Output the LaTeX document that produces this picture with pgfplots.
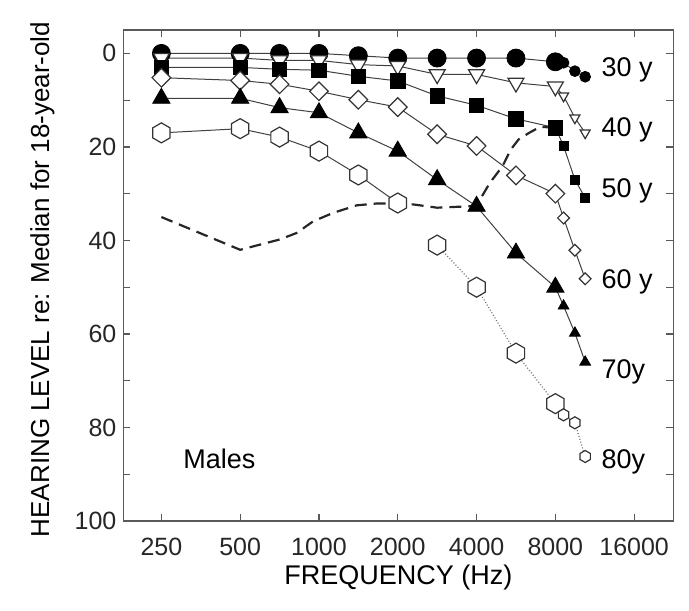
\documentclass[border=0pt]{standalone}
\usepackage{fontspec}
\setmainfont{Liberation Sans}
\usepackage{pgfplots}
\usepackage{pgfplotstable}
\pgfplotsset{compat=1.18}

% pointy-top hexagon mark
\pgfdeclareplotmark{hexagon}{%
  \pgfpathmoveto{\pgfqpointpolar{90}{\pgfplotmarksize}}%
  \pgfpathlineto{\pgfqpointpolar{150}{\pgfplotmarksize}}%
  \pgfpathlineto{\pgfqpointpolar{210}{\pgfplotmarksize}}%
  \pgfpathlineto{\pgfqpointpolar{270}{\pgfplotmarksize}}%
  \pgfpathlineto{\pgfqpointpolar{330}{\pgfplotmarksize}}%
  \pgfpathlineto{\pgfqpointpolar{30}{\pgfplotmarksize}}%
  \pgfpathclose
  \pgfusepathqfillstroke}

% hearing level (dB) re: median of 18-year-olds, males
\pgfplotstableread{
f     hl
250   0
500   0
707   0
1000  0
1414  0.5
2000  1
2828  1
4000  1
5657  1
8000  1.8
8600  2
9500  3.8
10400 5
}\ageA
\pgfplotstableread{
f     hl
250   1
500   1
707   1.5
1000  1.5
1414  2.4
2000  2.7
2828  4.5
4000  4.5
5657  6.3
8000  7.1
8600  9.1
9500  13.8
10400 17
}\ageB
\pgfplotstableread{
f     hl
250   3
500   3
707   3.4
1000  3.6
1414  4.9
2000  5.9
2828  9.1
4000  11.1
5657  14
8000  15.9
8600  19.8
9500  27
10400 30.9
}\ageC
\pgfplotstableread{
f     hl
250   5.2
500   5.8
707   6.6
1000  8.1
1414  9.9
2000  11.5
2828  17.3
4000  19.8
5657  26.1
8000  30
8600  35.2
9500  42.1
10400 48.2
}\ageD
\pgfplotstableread{
f     hl
250   9.6
500   9.6
707   11.6
1000  12.7
1414  17
2000  20.9
2828  27
4000  32.7
5657  42.7
8000  50
8600  54
9500  59.8
10400 66
}\ageE
\pgfplotstableread{
f     hl
250   17
500   16.1
707   17.9
1000  20.9
1414  26
2000  32
2828  41
4000  50
5657  64.1
8000  74.9
8600  77.3
9500  79
10400 86.2
}\ageF
\pgfplotstableread{
f     hl
250   35.0
500   42.0
595   40.9
708   39.8
822   38.4
951   35.9
1134  34.1
1393  32.5
1663  32.1
1923  32.1
2293  32.3
2827  33.0
3740  32.7
4000  32.5
4495  27.7
5030  24.1
5400  20.6
5790  18.4
6350  17.0
7000  15.7
8000  15.9
}\dashed

\pgfplotsset{
  ln/.style={black!75, line width=0.5pt, no marks},
}
\tikzset{
  open/.style={fill=white, draw=black!80, line width=0.6pt},
  solid mk/.style={fill=black, draw=black, line width=0.4pt},
}

\newcommand\lblfont{\fontsize{13.5}{15}\selectfont}

\begin{document}
\begin{tikzpicture}
\path[use as bounding box] (-61.7pt,-44.5pt) rectangle (282.8pt,260.5pt);
\begin{axis}[
  at={(0,0)}, anchor=south west,
  scale only axis, width=275pt, height=245.5pt,
  xmode=log, log basis x=2,
  xmin=179, xmax=22600,
  ymin=-5, ymax=100, y dir=reverse,
  xtick={250,500,1000,2000,4000,8000,16000},
  xticklabels={250,500,1000,2000,4000,8000,16000},
  ytick={0,10,...,100},
  yticklabels={0,,20,,40,,60,,80,,100},
  minor xtick={},
  tick align=inside, major tick length=3.5pt,
  tick style={black!65, line width=0.6pt},
  axis line style={black!65, line width=0.8pt},
  ticklabel style={font=\fontsize{12.5}{14}\selectfont, text=black!85,
    /pgf/number format/assume math mode=true},
  xticklabel style={yshift=-5pt},
  clip=false,
]
% 30 y
\addplot[ln] table[x=f,y=hl]{\ageA};
\addplot[only marks, mark=*, mark size=4.5pt, mark options={solid mk},
  skip coords between index={10}{13}] table[x=f,y=hl]{\ageA};
\addplot[only marks, mark=*, mark size=2.7pt, mark options={solid mk},
  skip coords between index={0}{10}] table[x=f,y=hl]{\ageA};
% 40 y
\addplot[ln] table[x=f,y=hl]{\ageB};
\addplot[only marks, mark=triangle*, mark size=4.6pt, mark options={open, rotate=180},
  skip coords between index={10}{13}] table[x=f,y=hl]{\ageB};
\addplot[only marks, mark=triangle*, mark size=2.9pt, mark options={open, rotate=180},
  skip coords between index={0}{10}] table[x=f,y=hl]{\ageB};
% 50 y
\addplot[ln] table[x=f,y=hl]{\ageC};
\addplot[only marks, mark=square*, mark size=3.6pt, mark options={solid mk},
  skip coords between index={10}{13}] table[x=f,y=hl]{\ageC};
\addplot[only marks, mark=square*, mark size=2.3pt, mark options={solid mk},
  skip coords between index={0}{10}] table[x=f,y=hl]{\ageC};
% 60 y
\addplot[ln] table[x=f,y=hl]{\ageD};
\addplot[only marks, mark=square*, mark size=3.3pt, mark options={open, rotate=45},
  skip coords between index={10}{13}] table[x=f,y=hl]{\ageD};
\addplot[only marks, mark=square*, mark size=2.1pt, mark options={open, rotate=45},
  skip coords between index={0}{10}] table[x=f,y=hl]{\ageD};
% 70 y
\addplot[ln] table[x=f,y=hl]{\ageE};
\addplot[only marks, mark=triangle*, mark size=5pt, mark options={solid mk},
  skip coords between index={10}{13}] table[x=f,y=hl]{\ageE};
\addplot[only marks, mark=triangle*, mark size=3.1pt, mark options={solid mk},
  skip coords between index={0}{10}] table[x=f,y=hl]{\ageE};
% 80 y
\addplot[ln, skip coords between index={6}{13}] table[x=f,y=hl]{\ageF};
\addplot[ln, densely dotted, line width=0.6pt, black!55,
  skip coords between index={0}{6}] table[x=f,y=hl]{\ageF};
\addplot[only marks, mark=hexagon, mark size=5pt, mark options={open},
  skip coords between index={10}{13}] table[x=f,y=hl]{\ageF};
\addplot[only marks, mark=hexagon, mark size=3pt, mark options={open},
  skip coords between index={0}{10}] table[x=f,y=hl]{\ageF};
% dashed curve
\addplot[no marks, black!85, line width=1.1pt, dash pattern=on 6pt off 3.5pt]
  table[x=f,y=hl]{\dashed};

\node[anchor=mid west, font=\lblfont] at (axis cs:11300,3.8) {30 y};
\node[anchor=mid west, font=\lblfont] at (axis cs:11300,16.6) {40 y};
\node[anchor=mid west, font=\lblfont] at (axis cs:11300,29.7) {50 y};
\node[anchor=mid west, font=\lblfont] at (axis cs:11300,49.1) {60 y};
\node[anchor=mid west, font=\lblfont] at (axis cs:11300,68.4) {70y};
\node[anchor=mid west, font=\lblfont] at (axis cs:11300,87.6) {80y};
\node[anchor=mid west, font=\lblfont] at (axis cs:285,87.6) {Males};
\end{axis}
\node[font=\lblfont] at ([yshift=-28.5pt]current axis.south) {FREQUENCY (Hz)};
\node[rotate=90, font=\fontsize{13}{15}\selectfont] at ([xshift=-40.5pt,yshift=-2pt]current axis.west)
  {HEARING LEVEL re: Median for 18-year-old};
\end{tikzpicture}
\end{document}
